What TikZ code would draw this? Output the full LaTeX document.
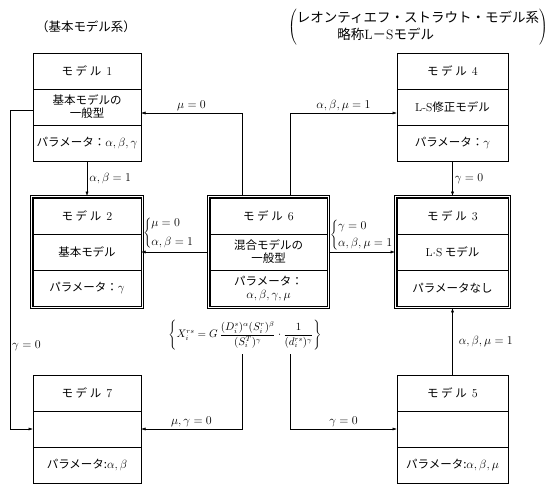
\documentclass[tikz,border=0pt]{standalone}
\usepackage{fontspec}
\newfontfamily\jp{Noto Sans CJK JP}
\usetikzlibrary{arrows.meta, calc, positioning, fit}

\begin{document}
\begin{tikzpicture}[
    x=1pt, y=-1pt,
    node distance=0pt,
    cell/.style={draw, line width=0.8pt, outer sep=0pt, minimum height=36pt, inner sep=1pt, align=center, font={\jp\fontsize{11.5}{13}\selectfont}},
    lcell/.style={cell, minimum width=108pt},
    ccell/.style={cell, minimum width=117pt},
    rcell/.style={cell, minimum width=111pt},
    frame/.style={draw, double, line width=0.9pt, double distance=1pt, inner sep=1.4pt},
    flow/.style={-{Latex[length=4.5pt, width=3pt]}, line width=0.5pt},
    lbl/.style={font=\fontsize{12}{14}\selectfont, inner sep=2pt},
]
\useasboundingbox (0,0) rectangle (555,483);

% Headers
\node[font={\jp\fontsize{12.5}{14}\selectfont}] (hdL) at (86,27) {（基本モデル系）};
\node[font={\jp\fontsize{13.5}{20}\selectfont}] (hdR) at (418,27)
    {$\left(\begin{tabular}{@{}l@{}}レオンティエフ・ストラウト・モデル系\\[-3pt]
     \hspace*{3em}略称{\rmfamily L}－{\rmfamily S}モデル\end{tabular}\right)$};

% Left column
\node[lcell] (m1) at (87,71) {モ\ デ\ ル\ \ $1$};
\node[lcell, below=of m1]  (m1b) {基本モデルの\\一般型};
\node[lcell, below=of m1b] (m1p) {パラメータ：$\alpha,\beta,\gamma$};

\node[lcell] (m2) at (87,216) {モ\ デ\ ル\ \ $2$};
\node[lcell, below=of m2]  (m2b) {基本モデル};
\node[lcell, below=of m2b] (m2p) {パラメータ：$\gamma$};
\node[frame, fit=(m2)(m2p)] (f2) {};

\node[lcell] (m7) at (87,393) {モ\ デ\ ル\ \ $7$};
\node[lcell, below=of m7]  (m7b) {};
\node[lcell, below=of m7b] (m7p) {パラメータ:$\alpha,\beta$};

% Centre column
\node[ccell] (m6) at (268.5,216) {モ\ デ\ ル\ \ $6$};
\node[ccell, below=of m6]  (m6b) {混合モデルの\\一般型};
\node[ccell, below=of m6b] (m6p) {パラメータ：\\$\alpha,\beta,\gamma,\mu$};
\node[frame, fit=(m6)(m6p)] (f6) {};

\node[lbl, font=\fontsize{10.5}{12}\selectfont, inner sep=4pt] (formula) at (245,335)
    {$\displaystyle\left\{X_i^{rs}=G\,\frac{(D_i^s)^\alpha(S_i^r)^\beta}{(S_i^T)^\gamma}\cdot\frac{1}{(d_i^{rs})^\gamma}\right\}$};

% Right column
\node[rcell] (m4) at (452.5,71) {モ\ デ\ ル\ \ $4$};
\node[rcell, below=of m4]  (m4b) {{\rmfamily L-S}修正モデル};
\node[rcell, below=of m4b] (m4p) {パラメータ：$\gamma$};

\node[rcell] (m3) at (452.5,216) {モ\ デ\ ル\ \ $3$};
\node[rcell, below=of m3]  (m3b) {{\rmfamily L$\cdot$S}\ モデル};
\node[rcell, below=of m3b] (m3p) {パラメータなし};
\node[frame, fit=(m3)(m3p)] (f3) {};

\node[rcell] (m5) at (452.5,393) {モ\ デ\ ル\ \ $5$};
\node[rcell, below=of m5]  (m5b) {};
\node[rcell, below=of m5b] (m5p) {パラメータ:$\alpha,\beta,\mu$};

% Taps on model 6
\coordinate (tapL) at ([xshift=-26.5pt]f6.north);
\coordinate (tapR) at ([xshift=21.5pt]f6.north);

% Connectors
\draw[flow] (m1p) -- node[right, lbl] {$\alpha,\beta=1$} (f2);
\draw[flow] (m4p) -- node[right, lbl] {$\gamma=0$} (f3);
\draw[flow] (m5) -- node[right, lbl, xshift=4pt] {$\alpha,\beta,\mu=1$} (f3);

\draw[flow] (tapL) |- node[pos=0.75, above, lbl] {$\mu=0$} ([yshift=-6pt]m1b.east);
\draw[flow] (tapR) |- node[pos=0.75, above, lbl] {$\alpha,\beta,\mu=1$} ([yshift=-6pt]m4b.west);

\draw[flow] (f6.west |- m6b) -- (m2b.east)
    node[pos=1, anchor=south west, lbl]
    {$\left\{\begin{array}{@{}l@{}}\mu=0\\[5pt]\alpha,\beta=1\end{array}\right.$};
\draw[flow] (f6.east |- m6b) -- (f3.west |- m3b)
    node[pos=0, anchor=south west, lbl, inner sep=1pt]
    {$\left\{\begin{array}{@{}l@{}}\gamma=0\\[3pt]\alpha,\beta,\mu=1\end{array}\right.$};

\draw[flow] (tapL |- formula.south) |- node[pos=0.75, above, lbl] {$\mu,\gamma=0$} (m7b.east);
\draw[flow] (tapR |- formula.south) |- node[pos=0.75, above, lbl] {$\gamma=0$} (m5b.west);

\draw[flow] ([yshift=-3pt]m1b.west) -- ++(-23,0) |- node[pos=0.37, right, lbl] {$\gamma=0$} (m7b.west);

\end{tikzpicture}
\end{document}
